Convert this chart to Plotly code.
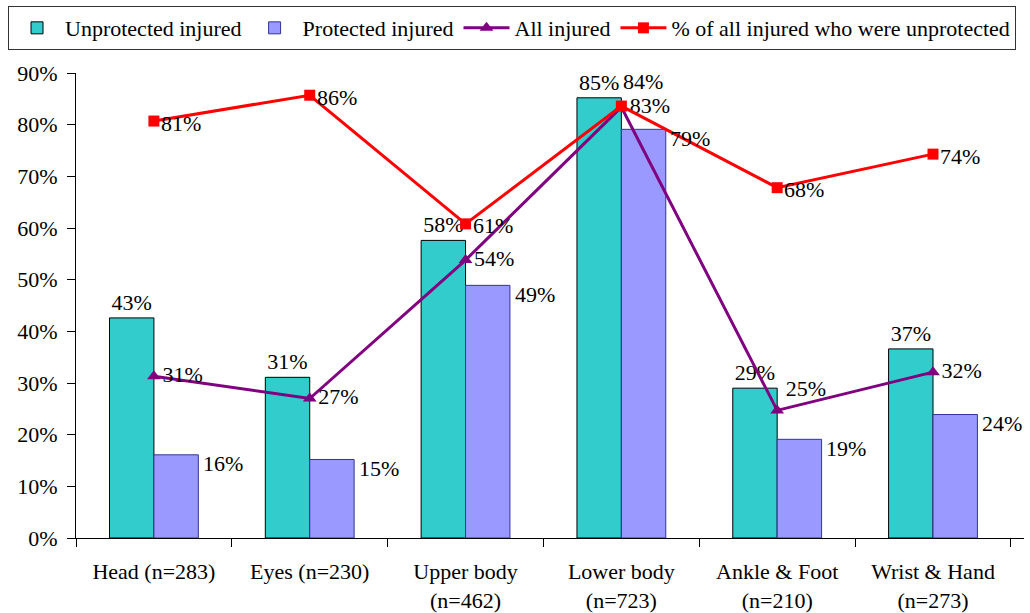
import plotly.graph_objects as go

categories = ["Head (n=283)", "Eyes (n=230)", "Upper body<br>(n=462)", "Lower body<br>(n=723)",
              "Ankle & Foot<br>(n=210)", "Wrist & Hand<br>(n=273)"]
unprotected = [42.6, 31.1, 57.6, 85.2, 29.0, 36.6]
protected = [16.1, 15.2, 48.9, 79.1, 19.1, 23.9]
all_injured = [31.3, 27.0, 53.8, 83.4, 24.7, 32.1]
pct_unprotected = [80.7, 85.7, 60.8, 83.6, 67.8, 74.3]
y_ticks = [0, 10, 20, 30, 40, 50, 60, 70, 80, 90]

FONT = "Times New Roman, Liberation Serif, DejaVu Serif, serif"
FS = 22


def lab(vals):
    return [f"{int(v + 0.5)}%" for v in vals]


fig = go.Figure()
fig.add_trace(go.Bar(
    x=categories, y=unprotected, name="Unprotected injured",
    marker=dict(color="#33CCCC", line=dict(color="#000000", width=1)),
    text=lab(unprotected), textposition="outside", constraintext="none",
    textfont=dict(family=FONT, size=FS, color="black"), cliponaxis=False,
))
fig.add_trace(go.Bar(
    x=categories, y=protected, name="Protected injured",
    marker=dict(color="#9999FF", line=dict(color="#333399", width=1)),
))
fig.add_trace(go.Scatter(
    x=categories, y=all_injured, name="All injured", mode="lines+markers+text",
    line=dict(color="#800080", width=3),
    marker=dict(symbol="triangle-up", size=12, color="#800080"),
    text=lab(all_injured),
    textposition=["middle right", "middle right", "middle right", "middle right", "top right", "middle right"],
    textfont=dict(family=FONT, size=FS, color="black"), cliponaxis=False,
))
fig.add_trace(go.Scatter(
    x=categories, y=pct_unprotected, name="% of all injured who were unprotected",
    mode="lines+markers",
    line=dict(color="#FF0000", width=3),
    marker=dict(symbol="square", size=11, color="#FF0000"),
    cliponaxis=False,
))

# labels for the red line, to the right of each point (Lower body one lifted above)
red_lift = [0, 0, 0, 27, 0, 0]
red_dx = [5, 5, 5, 0, 5, 5]
for c, v, t, dy, dx in zip(categories, pct_unprotected, lab(pct_unprotected), red_lift, red_dx):
    fig.add_annotation(x=c, y=v, text=t, showarrow=False, xref="x", yref="y",
                       xanchor="left", yanchor="middle", xshift=dx, yshift=dy - 2,
                       font=dict(family=FONT, size=FS, color="black"))

# labels for protected bars, to the right of each bar
for c, v, t in zip(categories, protected, lab(protected)):
    fig.add_annotation(x=c, y=v, text=t, showarrow=False, xref="x", yref="y",
                       xanchor="left", yanchor="middle", xshift=47, yshift=-9,
                       font=dict(family=FONT, size=FS, color="black"))

fig.update_layout(
    width=1030, height=613,
    margin=dict(l=76, r=6, t=73, b=75, autoexpand=False),
    paper_bgcolor="white", plot_bgcolor="white",
    barmode="group", bargap=0.43, bargroupgap=0,
    font=dict(family=FONT, size=FS, color="black"),
    legend=dict(orientation="h", x=-0.0717, xanchor="left", y=1.144, yanchor="top",
                bordercolor="#333333", borderwidth=1, font=dict(family=FONT, size=FS, color="black"),
                traceorder="normal", itemwidth=46),
    showlegend=True,
)
fig.update_yaxes(range=[0, 90], tickvals=y_ticks, ticktext=[f"{v}%" for v in y_ticks],
                 showline=True, linecolor="black", linewidth=1, ticks="outside", ticklen=8,
                 tickcolor="black", showgrid=False, zeroline=False, automargin=False,
                 ticklabelstandoff=5,
                 tickfont=dict(family=FONT, size=FS, color="black"))
fig.update_xaxes(showline=True, linecolor="black", linewidth=1, ticks="outside", ticklen=8,
                 tickcolor="black", tickson="boundaries", showgrid=False, automargin=False,
                 ticklabelstandoff=14,
                 tickfont=dict(family=FONT, size=FS, color="black"))

fig.write_html("out.html", config={"displayModeBar": False},
               post_script="document.body.style.margin='0';document.body.style.padding='0';")
